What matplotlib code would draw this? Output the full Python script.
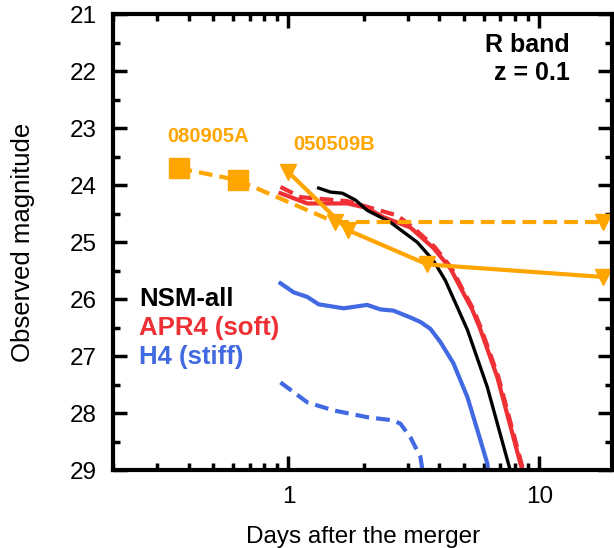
import numpy as np
import matplotlib.pyplot as plt
from matplotlib.ticker import LogLocator, NullFormatter, MultipleLocator

plt.rcParams['font.family'] = ['Liberation Sans', 'DejaVu Sans']

ORANGE = "#FFA500"
RED = "#EE3035"
BLUE = "#4169E1"

# model light curves (days, R mag)
nsm_t = [1.32, 1.47, 1.64, 1.85, 2.06, 2.55, 3.26, 3.78, 4.22, 4.71, 5.17, 6.2, 7.65]
nsm_m = [24.05, 24.12, 24.14, 24.26, 24.44, 24.65, 25.00, 25.32, 25.67, 26.14, 26.54, 27.54, 29.0]

apr4_t = [0.93, 1.19, 1.72, 2.06, 2.39, 3.06, 3.78, 4.42, 4.84, 5.41, 5.83, 6.8, 8.4, 8.56]
apr4_m = [24.14, 24.32, 24.32, 24.40, 24.56, 24.74, 25.10, 25.46, 25.79, 26.19, 26.54, 27.37, 28.88, 29.0]

apr4d_t = [0.93, 1.12, 1.72, 2.71, 3.1, 3.82, 4.46, 4.88, 5.46, 5.88, 6.86, 8.48, 8.64]
apr4d_m = [24.03, 24.21, 24.28, 24.53, 24.72, 25.08, 25.45, 25.78, 26.18, 26.53, 27.36, 28.88, 29.0]

h4_t = [0.93, 1.05, 1.19, 1.32, 1.66, 2.06, 2.33, 2.62, 3.06, 3.36, 3.68, 4.03, 4.54, 5.17, 5.71, 6.2, 6.25]
h4_m = [25.72, 25.88, 25.96, 26.09, 26.16, 26.10, 26.18, 26.20, 26.32, 26.40, 26.52, 26.75, 27.12, 27.72, 28.35, 28.88, 29.0]

h4d_t = [0.93, 1.19, 1.51, 2.06, 2.55, 2.79, 3.06, 3.36, 3.42]
h4d_m = [27.46, 27.81, 27.95, 28.07, 28.12, 28.18, 28.42, 28.77, 29.0]

# GRB afterglow data
grb080905_t = [0.365, 0.627]
grb080905_m = [23.70, 23.91]
grb080905_lim_t = [1.54, 18.0]
grb080905_lim_m = [24.65, 24.65]

grb050509_t = [1.0, 1.73, 3.58, 18.0]
grb050509_m = [23.77, 24.79, 25.39, 25.61]

fig = plt.figure(figsize=(6.14, 5.48), dpi=100)
ax = fig.add_axes([0.184, 0.142, 0.813, 0.832])

dash = (0, (3.3, 1.7))
ax.plot(h4d_t, h4d_m, color=BLUE, lw=3, ls=dash)
ax.plot(h4_t, h4_m, color=BLUE, lw=3)
ax.plot(apr4d_t, apr4d_m, color=RED, lw=3, ls=dash)
ax.plot(apr4_t, apr4_m, color=RED, lw=3)
ax.plot(nsm_t, nsm_m, color="black", lw=2.4)

ax.plot([grb080905_t[-1], grb080905_lim_t[0]], [grb080905_m[-1], grb080905_lim_m[0]],
        color=ORANGE, lw=3, ls=dash)
ax.plot(grb080905_t, grb080905_m, color=ORANGE, lw=3, ls=dash, marker="s", ms=15)
ax.plot(grb080905_lim_t, grb080905_lim_m, color=ORANGE, lw=3, ls=dash,
        marker="v", ms=12, clip_on=False)
ax.plot(grb050509_t, grb050509_m, color=ORANGE, lw=3, marker="v", ms=12, clip_on=False)

ax.text(0.48, 23.14, "080905A", color=ORANGE, fontsize=14.5, fontweight="bold", ha="center", va="center")
ax.text(1.525, 23.28, "050509B", color=ORANGE, fontsize=14.5, fontweight="bold", ha="center", va="center")

ax.text(0.916, 0.932, "R band", transform=ax.transAxes, fontsize=18, fontweight="bold", ha="right", va="center")
ax.text(0.916, 0.871, "z = 0.1", transform=ax.transAxes, fontsize=18, fontweight="bold", ha="right", va="center")

ax.text(0.052, 0.375, "NSM-all", transform=ax.transAxes, fontsize=18.5, fontweight="bold", color="black", va="center")
ax.text(0.052, 0.311, "APR4 (soft)", transform=ax.transAxes, fontsize=18.5, fontweight="bold", color=RED, va="center")
ax.text(0.052, 0.248, "H4 (stiff)", transform=ax.transAxes, fontsize=18.5, fontweight="bold", color=BLUE, va="center")

ax.set_xscale("log")
ax.set_xlim(0.2, 19.5)
ax.set_ylim(29, 21)
ax.xaxis.set_minor_locator(LogLocator(base=10, subs=np.arange(2, 10), numticks=10))
ax.xaxis.set_minor_formatter(NullFormatter())
ax.set_xticks([1, 10])
ax.set_xticklabels(["1", "10"])
ax.yaxis.set_major_locator(MultipleLocator(1))
ax.yaxis.set_minor_locator(MultipleLocator(0.5))

ax.tick_params(which="both", direction="in", top=True, right=True, width=2.5, labelsize=17.5, pad=11.5)
ax.tick_params(which="major", length=10)
ax.tick_params(which="minor", length=5)
for s in ax.spines.values():
    s.set_linewidth(3)

ax.set_xlabel("Days after the merger", fontsize=17.5, va="center")
ax.set_ylabel("Observed magnitude", fontsize=18.5, va="center")
ax.xaxis.set_label_coords(0.5, -0.147)
ax.yaxis.set_label_coords(-0.180, 0.5)

fig.savefig("out.png", dpi=100)
